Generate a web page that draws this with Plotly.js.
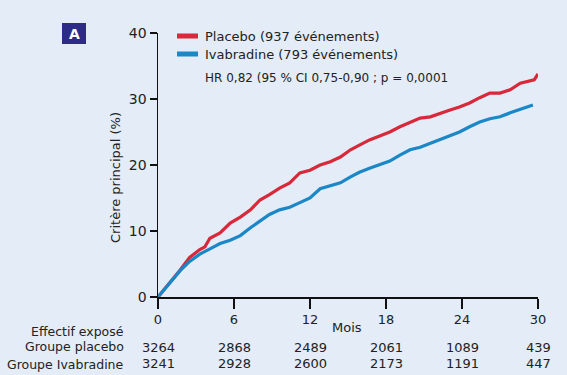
<!DOCTYPE html>
<html>
<head>
<meta charset="utf-8">
<script src="https://cdn.plot.ly/plotly-3.0.1.min.js"></script>
<style>html,body{margin:0;padding:0;background:#e3ecf7;}#chart{width:567px;height:375px;}</style>
</head>
<body>
<div id="chart"></div>
<script>
// Kaplan-Meier style cumulative incidence (%)
const placeboMonths = [0, 1, 1.75, 2.5, 3.3, 3.7, 4.1, 4.9, 5.7, 6.5, 7.3, 8.05, 8.8, 9.6, 10.4, 11.2, 12.0, 12.8, 13.6, 14.4, 15.2, 15.9, 16.7, 17.5, 18.3, 19.1, 19.9, 20.7, 21.5, 22.3, 23.0, 23.8, 24.6, 25.4, 26.2, 27.0, 27.8, 28.6, 29.4, 29.7, 30];
const placeboPct = [0, 2.3, 4.1, 6.0, 7.2, 7.6, 8.9, 9.7, 11.2, 12.1, 13.2, 14.7, 15.5, 16.5, 17.3, 18.8, 19.2, 20.0, 20.5, 21.2, 22.3, 23.0, 23.8, 24.4, 25.0, 25.8, 26.4, 27.1, 27.3, 27.9, 28.3, 28.8, 29.4, 30.2, 30.9, 30.9, 31.4, 32.4, 32.7, 32.9, 33.8];
const ivabradineMonths = [0, 1, 1.75, 2.5, 3.3, 4.1, 4.9, 5.7, 6.5, 7.3, 8.05, 8.8, 9.6, 10.4, 11.2, 12.0, 12.8, 13.6, 14.4, 15.2, 15.9, 16.7, 17.5, 18.3, 19.1, 19.9, 20.7, 21.5, 22.3, 23.0, 23.8, 24.6, 25.4, 26.2, 27.0, 27.8, 28.6, 29.6];
const ivabradinePct = [0, 2.3, 4.0, 5.4, 6.5, 7.3, 8.1, 8.6, 9.3, 10.5, 11.5, 12.5, 13.2, 13.6, 14.3, 15.0, 16.4, 16.9, 17.3, 18.2, 18.9, 19.5, 20.0, 20.6, 21.5, 22.3, 22.7, 23.3, 23.9, 24.5, 25.0, 25.8, 26.5, 27.0, 27.3, 27.9, 28.4, 29.1];

// Risk table
const riskMonths = [0, 6, 12, 18, 24, 30];
const placeboAtRisk = [3264, 2868, 2489, 2061, 1089, 439];
const ivabradineAtRisk = [3241, 2928, 2600, 2173, 1191, 447];
const rowLabels = ["Effectif exposé", "Groupe placebo", "Groupe Ivabradine"];

const seriesNames = ["Placebo (937 événements)", "Ivabradine (793 événements)"];
const seriesColors = ["#d8283a", "#1b87c6"];
const hrText = "HR 0,82 (95 % CI 0,75-0,90 ; p = 0,0001";
const yTitle = "Critère principal (%)";
const xTitle = "Mois";

const FONT = "'DejaVu Sans', sans-serif";
const TXT = "#222222";
const BG = "#e3ecf7";

// pixel -> paper helpers (plot area: x 158..538, y 33..297)
const px = v => (v - 158) / 380;
const py = v => (297 - v) / 264;

const traces = [
  {x: placeboMonths, y: placeboPct, name: seriesNames[0], mode: "lines",
   line: {color: seriesColors[0], width: 3.2}},
  {x: ivabradineMonths, y: ivabradinePct, name: seriesNames[1], mode: "lines",
   line: {color: seriesColors[1], width: 3.2}}
];

const annotations = [];
const rowY = [331, 346, 364];
rowLabels.forEach((t, i) => {
  annotations.push({text: t, xref: "paper", yref: "paper", x: px(126), y: py(rowY[i]),
    xanchor: "right", yanchor: "middle", showarrow: false, font: {family: FONT, size: 12.5, color: TXT}});
});
riskMonths.forEach((m, i) => {
  annotations.push({text: String(placeboAtRisk[i]), xref: "x", yref: "paper", x: m, y: py(347),
    xanchor: "center", yanchor: "middle", showarrow: false, font: {family: FONT, size: 13, color: TXT}});
  annotations.push({text: String(ivabradineAtRisk[i]), xref: "x", yref: "paper", x: m, y: py(363.5),
    xanchor: "center", yanchor: "middle", showarrow: false, font: {family: FONT, size: 13, color: TXT}});
});
annotations.push({text: xTitle, xref: "paper", yref: "paper", x: px(347), y: py(327),
  xanchor: "center", yanchor: "middle", showarrow: false, font: {family: FONT, size: 13, color: TXT}});
annotations.push({text: yTitle, xref: "paper", yref: "paper", x: px(115), y: py(178), textangle: -90,
  xanchor: "center", yanchor: "middle", showarrow: false, font: {family: FONT, size: 13, color: TXT}});
// legend texts
const legY = [36, 54];
seriesNames.forEach((n, i) => {
  annotations.push({text: n, xref: "paper", yref: "paper", x: px(203), y: py(legY[i]),
    xanchor: "left", yanchor: "middle", showarrow: false, font: {family: FONT, size: 13, color: TXT}});
});
annotations.push({text: hrText, xref: "paper", yref: "paper", x: px(203), y: py(77.5),
  xanchor: "left", yanchor: "middle", showarrow: false, font: {family: FONT, size: 12, color: TXT}});
annotations.push({text: "<b>A</b>", xref: "paper", yref: "paper", x: px(74), y: py(33.5),
  xanchor: "center", yanchor: "middle", showarrow: false, font: {family: FONT, size: 14, color: "#ffffff"}});

const shapes = [
  {type: "rect", xref: "paper", yref: "paper", x0: px(62), x1: px(86), y0: py(44), y1: py(23),
   fillcolor: "#2e2a88", line: {width: 0}, layer: "below"}
];
legY.forEach((yy, i) => {
  shapes.push({type: "line", xref: "paper", yref: "paper", x0: px(177), x1: px(198), y0: py(yy), y1: py(yy),
    line: {color: seriesColors[i], width: 5}});
});

const layout = {
  width: 567, height: 375,
  margin: {l: 158, r: 29, t: 33, b: 78},
  paper_bgcolor: BG, plot_bgcolor: BG,
  font: {family: FONT, size: 13, color: TXT},
  showlegend: false,
  xaxis: {range: [0, 30], tickvals: riskMonths, ticks: "outside", ticklen: 10, tickwidth: 1.5, tickcolor: "#111",
    showline: true, linecolor: "#111", linewidth: 1.5, showgrid: false, zeroline: false,
    tickfont: {family: FONT, size: 13, color: TXT}, fixedrange: true},
  yaxis: {range: [0, 40], tickvals: [0, 10, 20, 30, 40], ticks: "outside", ticklen: 7, tickwidth: 1.5, tickcolor: "#111",
    showline: true, linecolor: "#111", linewidth: 1.5, showgrid: false, zeroline: false,
    tickfont: {family: FONT, size: 14, color: TXT}},
  shapes: shapes,
  annotations: annotations
};

Plotly.newPlot("chart", traces, layout, {staticPlot: true, displayModeBar: false});
</script>
</body>
</html>
